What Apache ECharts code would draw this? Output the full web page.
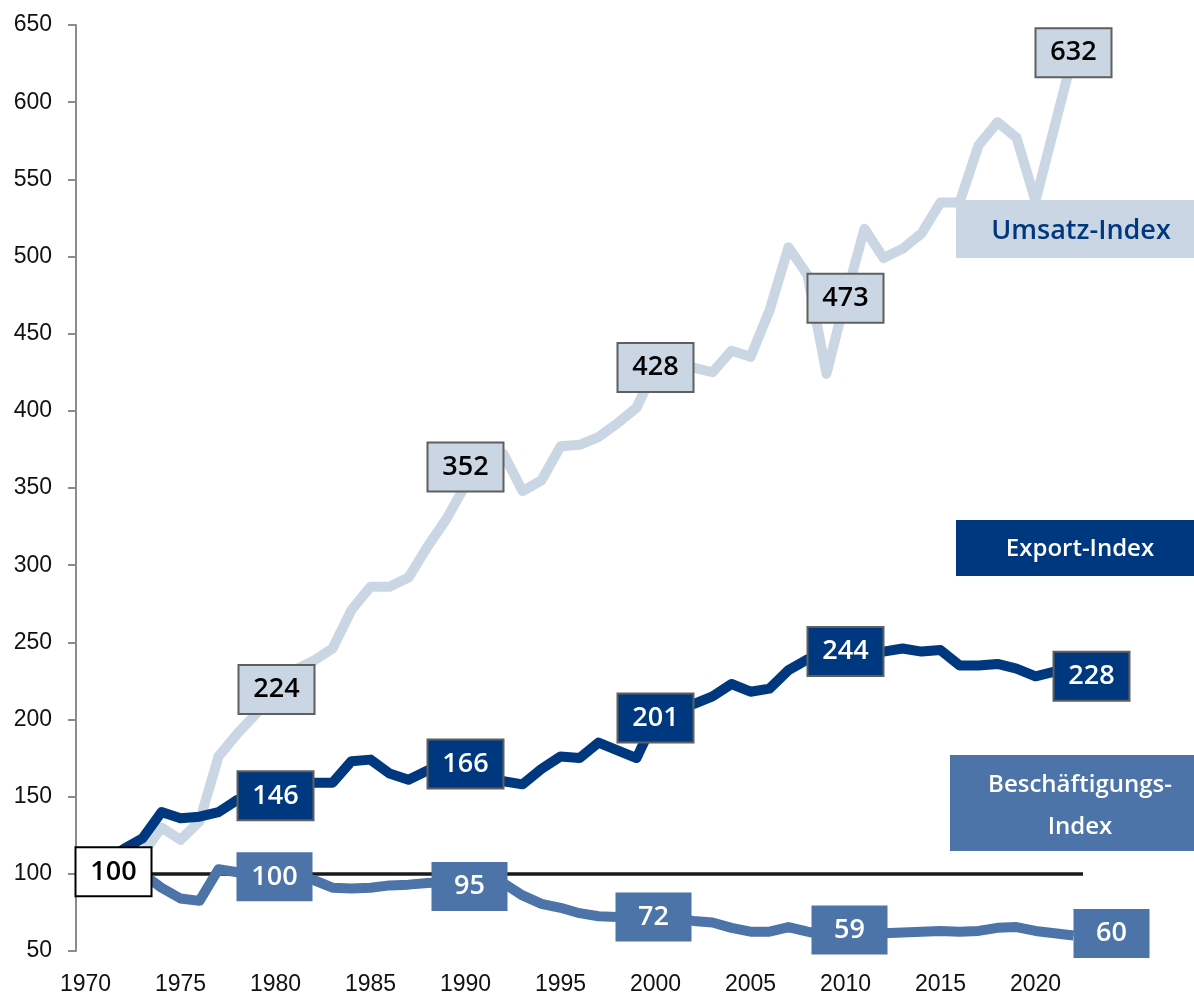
<!DOCTYPE html>
<html>
<head>
<meta charset="utf-8">
<script src="https://cdn.jsdelivr.net/npm/echarts@6/dist/echarts.min.js"></script>
<style>
html, body { margin: 0; padding: 0; background: #fff; }
#chart { width: 1194px; height: 994px; }
</style>
</head>
<body>
<div id="chart"></div>
<script>
// Jahre 1970 - 2022
var years = ['1970','1971','1972','1973','1974','1975','1976','1977','1978','1979',
             '1980','1981','1982','1983','1984','1985','1986','1987','1988','1989',
             '1990','1991','1992','1993','1994','1995','1996','1997','1998','1999',
             '2000','2001','2002','2003','2004','2005','2006','2007','2008','2009',
             '2010','2011','2012','2013','2014','2015','2016','2017','2018','2019',
             '2020','2021','2022'];

// Index 1970 = 100
var umsatz = [100,104,108,113,130,122,134,176,191,204,
              224,232,238,246,271,286,286,292,312,330,
              352,362,372,348,355,377,378,383,392,402,
              428,430,428,425,439,435,465,506,488,424,
              473,518,499,505,515,535,535,572,587,577,
              536,584,632];
var exportIdx = [100,108,116,123,140,136,137,140,148,151,
                 146,156,159,159,173,174,165,161,167,171,
                 166,162,160,158,168,176,175,185,180,175,
                 201,206,210,215,223,218,220,232,239,235,
                 244,243,244,246,244,245,235,235,236,233,
                 228,231,228];
var beschaeftigung = [100,101,101,100,91,84,82.5,103,101,100,
                      100,98,96,91,90.5,91,92.5,93,94,94.5,
                      95,95.5,94,86,80.5,78,74.5,72.5,72,71.5,
                      72,71,69.5,68.5,65,62.5,62.5,65.5,62.5,60,
                      59,61,61.5,62,62.5,63,62.5,63,65,65.5,
                      63,61.5,60];

// Jahre mit Wertelabel
var umsatzLabelYears = ['1980','1990','2000','2010','2022'];
var exportLabelYears = ['1980','1990','2000','2010','2022'];
var beschLabelYears = ['1970','1980','1990','2000','2010','2022'];
var basisLinie = 100;

var cUmsatz = '#cbd6e4';
var cExport = '#00387f';
var cBesch = '#4c74a8';

// Verschiebung der Labelkaesten (px)
var umsatzOffsets = { '1980': [1, 7], '1990': [0, -18] };
var exportOffsets = { '1980': [0, -7], '1990': [0, -8], '2022': [18, 0] };
var beschOffsets = { '1970': [28, -2], '1980': [-1, 3], '1990': [4, 5], '2000': [-2, 0], '2010': [4, -7], '2022': [38, -2] };

function boxLabel(bg, color, border) {
    return {
        show: true,
        position: 'inside',
        formatter: '{c}',
        color: color,
        fontFamily: 'Open Sans',
        fontWeight: 600,
        fontSize: 27,
        backgroundColor: bg,
        borderColor: border || bg,
        borderWidth: border ? 2 : 0,
        width: border ? 74 : 76,
        height: border ? 47 : 49,
        lineHeight: border ? 47 : 49,
        align: 'center',
        verticalAlign: 'middle'
    };
}

function buildData(values, labelYears, offsets, label, special) {
    var out = [];
    for (var i = 0; i < values.length; i++) {
        var item = { value: values[i] };
        var y = years[i];
        if (labelYears.indexOf(y) >= 0) {
            var l = Object.assign({}, (special && special[y]) || label);
            l.offset = offsets[y] || [0, 0];
            item.label = l;
        }
        out.push(item);
    }
    return out;
}

function lineSeries(name, color, z, data) {
    return {
        name: name,
        type: 'line',
        z: z,
        data: data,
        smooth: false,
        showSymbol: true,
        showAllSymbol: true,
        symbol: 'circle',
        symbolSize: 1,
        itemStyle: { color: color },
        lineStyle: { color: color, width: 10, join: 'round', cap: 'butt' },
        label: { show: false },
        emphasis: { disabled: true }
    };
}

var chart = echarts.init(document.getElementById('chart'));

var umsatzSeries = lineSeries('Umsatz-Index', cUmsatz, 2,
    buildData(umsatz, umsatzLabelYears, umsatzOffsets, boxLabel(cUmsatz, '#000', '#5f5f5f')));
umsatzSeries.markLine = {
    silent: true,
    symbol: 'none',
    label: { show: false },
    lineStyle: { color: '#1a1a1a', width: 3.5, type: 'solid' },
    data: [{ yAxis: basisLinie }]
};

var option = {
    animation: false,
    backgroundColor: '#fff',
    grid: { left: 76, right: 111, top: 25, bottom: 43, containLabel: false, outerBoundsMode: 'none' },
    xAxis: {
        type: 'category',
        data: years,
        boundaryGap: true,
        axisLine: { show: false },
        axisTick: { show: false },
        axisLabel: {
            interval: 4,
            margin: 22,
            color: '#111',
            fontFamily: 'Liberation Sans',
            fontSize: 23
        },
        splitLine: { show: false }
    },
    yAxis: {
        type: 'value',
        min: 50,
        max: 650,
        interval: 50,
        axisLine: { show: true, lineStyle: { color: '#8c8c8c', width: 2 } },
        axisTick: { show: true, length: 8, lineStyle: { color: '#8c8c8c', width: 2 } },
        axisLabel: {
            margin: 24,
            color: '#111',
            fontFamily: 'Liberation Sans',
            fontSize: 23
        },
        splitLine: { show: false }
    },
    series: [
        umsatzSeries,
        lineSeries('Export-Index', cExport, 3,
            buildData(exportIdx, exportLabelYears, exportOffsets, boxLabel(cExport, '#fff', '#5f5f5f'))),
        lineSeries('Beschäftigungs-Index', cBesch, 6,
            buildData(beschaeftigung, beschLabelYears, beschOffsets, boxLabel(cBesch, '#fff'),
                { '1970': boxLabel('#fff', '#000', '#000') }))
    ],
    graphic: [
        { type: 'rect', left: 956, top: 200, z: 10, shape: { width: 238, height: 58 }, style: { fill: cUmsatz } },
        { type: 'text', x: 1081, y: 231, z: 11, style: { text: 'Umsatz-Index', fill: cExport, fontFamily: 'Open Sans', fontWeight: 600, fontSize: 27, align: 'center', verticalAlign: 'middle' } },
        { type: 'rect', left: 956, top: 520, z: 10, shape: { width: 238, height: 56 }, style: { fill: cExport } },
        { type: 'text', x: 1080, y: 549, z: 11, style: { text: 'Export-Index', fill: '#fff', fontFamily: 'Open Sans', fontWeight: 600, fontSize: 24, align: 'center', verticalAlign: 'middle' } },
        { type: 'rect', left: 950, top: 755, z: 10, shape: { width: 244, height: 96 }, style: { fill: cBesch } },
        { type: 'text', x: 1080, y: 806, z: 11, style: { text: 'Beschäftigungs-\nIndex', fill: '#fff', fontFamily: 'Open Sans', fontWeight: 600, fontSize: 24, lineHeight: 42, align: 'center', verticalAlign: 'middle' } }
    ]
};

chart.setOption(option);
</script>
</body>
</html>
